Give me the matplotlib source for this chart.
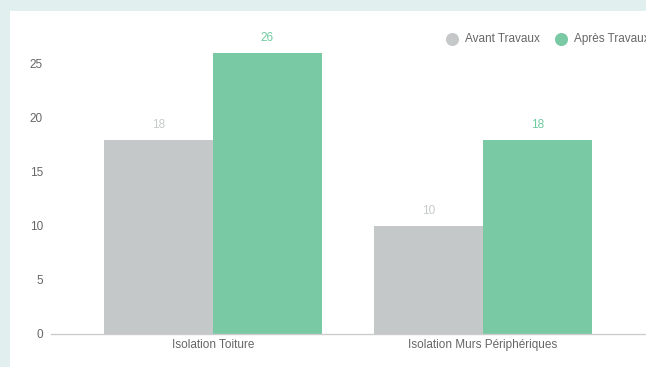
import matplotlib
matplotlib.use("Agg")
import matplotlib.pyplot as plt
from matplotlib.patches import Rectangle
from matplotlib.lines import Line2D
import numpy as np

plt.rcParams['font.family'] = ['Liberation Sans', 'DejaVu Sans']

categories = ["Isolation Toiture", "Isolation Murs Périphériques"]
series_names = ["Avant Travaux", "Après Travaux"]
avant = [18, 10]
apres = [26, 18]
y_ticks = [0, 5, 10, 15, 20, 25]

bar_colors = ["#c4c8c8", "#78c9a4"]
label_colors = ["#c6caca", "#6fcb9f"]
bg_color = "#e1f0ef"
text_color = "#666666"
fs = 8.5

W, H, DPI = 646, 367, 100
fig = plt.figure(figsize=(W / DPI, H / DPI), dpi=DPI, facecolor=bg_color)

# white card
fig.add_artist(Rectangle((10 / W, 0), 1, 1 - 11 / H, transform=fig.transFigure,
                         facecolor="white", edgecolor="none", zorder=0))

# plot area in pixels: left 51, zero line at 334, top at 11
ax_left, ax_bottom, ax_top = 51, 334, 11
ax = fig.add_axes([ax_left / W, (H - ax_bottom) / H, (W - ax_left) / W, (ax_bottom - ax_top) / H])
ax.set_facecolor("none")

x = np.arange(len(categories))
bw = 0.403
ax.set_xlim(-0.6, 1.604)
ax.set_ylim(0, (ax_bottom - ax_top) / 10.8)

for i, (vals, col, lcol) in enumerate(zip([avant, apres], bar_colors, label_colors)):
    pos = x + (i - 0.5) * bw
    ax.bar(pos, vals, width=bw, color=col, edgecolor="none", zorder=2)
    for p, v in zip(pos, vals):
        ax.annotate(str(v), (p, v), xytext=(0, 10.8), textcoords="offset points",
                    ha="center", va="center", fontsize=fs, color=lcol)

ax.set_xticks(x)
ax.set_xticklabels(categories, fontsize=fs, color=text_color)
ax.set_yticks(y_ticks)
ax.set_yticklabels([str(t) for t in y_ticks], fontsize=fs, color=text_color)
ax.tick_params(axis="y", length=0, pad=5.8)
ax.tick_params(axis="x", length=0, pad=3.5)

for s in ["top", "right", "left"]:
    ax.spines[s].set_visible(False)
ax.spines["bottom"].set_color("#cccccc")
ax.spines["bottom"].set_linewidth(1)

# legend: circle markers with labels, top right
leg_y = 1 - 39 / H
for name, col, cx in zip(series_names, bar_colors, [452, 561]):
    fig.add_artist(Line2D([cx / W], [leg_y], marker="o", markersize=9.4, linestyle="none",
                          markerfacecolor=col, markeredgecolor="none",
                          transform=fig.transFigure))
    fig.text((cx + 13) / W, leg_y, name, fontsize=fs, color=text_color,
             ha="left", va="center")

fig.savefig("out.png", dpi=DPI, facecolor=bg_color)
